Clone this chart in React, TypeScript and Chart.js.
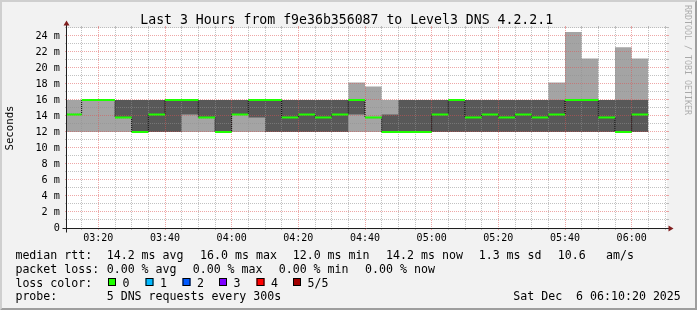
import React, { useEffect, useRef } from 'react';
import { Chart, registerables } from 'chart.js';

Chart.register(...registerables);

// ---------- text ----------
const TITLE = 'Last 3 Hours from f9e36b356087 to Level3 DNS 4.2.2.1';
const Y_TITLE = 'Seconds';
const WATERMARK = 'RRDTOOL / TOBI OETIKER';

// ---------- time axis (minutes after 03:00) ----------
const X_MIN = 10.6;
const X_MAX = 190.6;
const STEP_MINUTES = 5;
const xTickValues = [20, 40, 60, 80, 100, 120, 140, 160, 180];
const xTickLabels = ['03:20', '03:40', '04:00', '04:20', '04:40', '05:00', '05:20', '05:40', '06:00'];

// ---------- value axis (ms) ----------
const Y_MAX = 25;
const yTickValues = [0, 2, 4, 6, 8, 10, 12, 14, 16, 18, 20, 22, 24];
const yTickLabels = ['0', '2 m', '4 m', '6 m', '8 m', '10 m', '12 m', '14 m', '16 m', '18 m', '20 m', '22 m', '24 m'];

// ---------- data: 5 sorted DNS pings per 5-minute step ----------
const stepStarts = [10, 15, 20, 25, 30, 35, 40, 45, 50, 55, 60, 65, 70, 75, 80, 85, 90, 95, 100, 105, 110, 115, 120, 125, 130, 135, 140, 145, 150, 155, 160, 165, 170, 175, 180];
const ping1 = [12, 12, 12, 12, 12, 12, 12, 12, 12, 12, 12, 12, 12, 12, 12, 12, 12, 12, 12, 12, 12, 12, 12, 12, 12, 12, 12, 12, 12, 12, 12, 12, 12, 12, 12];
const ping2 = [14.2, 16, 16, 13.8, 12, 12, 12, 14.2, 13.8, 12, 14.2, 13.8, 12, 12, 12, 12, 12, 14.2, 13.8, 12, 12, 12, 12, 12, 12, 12, 12, 12, 12, 12, 12, 12, 12, 12, 12];
const medianRtt = [14.2, 16, 16, 13.8, 12, 14.2, 16, 16, 13.8, 12, 14.2, 16, 16, 13.8, 14.2, 13.8, 14.2, 16, 13.8, 12, 12, 12, 14.2, 16, 13.8, 14.2, 13.8, 14.2, 13.8, 14.2, 16, 16, 13.8, 12, 14.2];
const ping4 = [14.2, 16, 16, 16, 16, 16, 16, 16, 16, 16, 16, 16, 16, 16, 16, 16, 16, 16, 13.8, 14.2, 16, 16, 16, 16, 16, 16, 16, 16, 16, 16, 16, 16, 16, 16, 16];
const ping5 = [16, 16, 16, 16, 16, 16, 16, 16, 16, 16, 16, 16, 16, 16, 16, 16, 16, 18.2, 17.7, 16, 16, 16, 16, 16, 16, 16, 16, 16, 16, 18.2, 24.5, 21.2, 16, 22.6, 21.2];

// ---------- legend ----------
const rttLabel = 'median rtt:';
const rttStats = ['14.2 ms avg', '16.0 ms max', '12.0 ms min', '14.2 ms now', '1.3 ms sd', '10.6', 'am/s'];
const lossLabel = 'packet loss:';
const lossStats = ['0.00 % avg', '0.00 % max', '0.00 % min', '0.00 % now'];
const lossColorLabel = 'loss color:';
const lossColorNames = ['0', '1', '2', '3', '4', '5/5'];
const lossColors = ['#1eff00', '#00b8ff', '#0059ff', '#7e00ff', '#ff0000', '#a10000'];
const probeLabel = 'probe:';
const probeText = '5 DNS requests every 300s';
const dateText = 'Sat Dec  6 06:10:20 2025';

// ---------- layout ----------
const W = 697;
const H = 310;
const MONO = "'DejaVu Sans Mono', monospace";
const rttX = [106.7, 200.1, 292.7, 386.1, 478.7, 557.7, 606.1];
const lossX = [106.7, 192.7, 278.7, 365.1];
const swatchX = [108, 145.5, 182.5, 219, 256.5, 293];
const legendBaselines = [258.5, 272.5, 286.5, 300.2];
const GRID_AFTER_DATASET = 3; // grid drawn over the smoke, under the median line

function stepPoints(values: number[]) {
  const pts = stepStarts.map((s, i) => ({ x: s, y: values[i] }));
  const last = stepStarts.length - 1;
  pts.push({ x: stepStarts[last] + STEP_MINUTES, y: values[last] });
  return pts;
}

function medianSegments() {
  const pts: { x: number; y: number | null }[] = [];
  stepStarts.forEach((s, i) => {
    pts.push({ x: s, y: medianRtt[i] });
    pts.push({ x: s + STEP_MINUTES, y: medianRtt[i] });
    pts.push({ x: s + STEP_MINUTES, y: null });
  });
  return pts;
}

function line(ctx: CanvasRenderingContext2D, x1: number, y1: number, x2: number, y2: number) {
  ctx.beginPath();
  ctx.moveTo(x1, y1);
  ctx.lineTo(x2, y2);
  ctx.stroke();
}

function drawGrid(chart: any) {
  const { ctx, chartArea: a } = chart;
  const xs = chart.scales.x;
  const ys = chart.scales.y;
  const X0 = a.left, X1 = a.right, Y0 = a.bottom, Y1 = a.top;
  const minor = 'rgba(143,143,143,0.55)';
  const major = 'rgba(222,79,79,0.5)';
  ctx.save();
  ctx.lineWidth = 1;
  for (let v = 1; v <= Y_MAX; v += 1) {
    const py = Math.round(ys.getPixelForValue(v)) - 0.5;
    ctx.strokeStyle = yTickValues.includes(v) ? major : minor;
    ctx.setLineDash([]);
    line(ctx, X0 - 2, py, X0, py);
    line(ctx, X1, py, X1 + 2, py);
    ctx.setLineDash([1, 1]);
    line(ctx, X0 - 1, py, X1 + 1, py);
  }
  for (let m = 15; m < X_MAX; m += STEP_MINUTES) {
    const px = Math.floor(xs.getPixelForValue(m)) + 0.5;
    ctx.strokeStyle = xTickValues.includes(m) ? major : minor;
    ctx.setLineDash([]);
    line(ctx, px, Y0, px, Y0 + 2);
    line(ctx, px, Y1 - 2, px, Y1);
    ctx.setLineDash([1, 1]);
    line(ctx, px, Y0 - 1, px, Y1);
  }
  ctx.restore();
}

const rrdPlugin = {
  id: 'rrdLook',
  beforeDraw(chart: any) {
    const { ctx, chartArea: a } = chart;
    ctx.save();
    ctx.fillStyle = '#f2f2f2';
    ctx.fillRect(0, 0, chart.width, chart.height);
    ctx.fillStyle = '#ffffff';
    ctx.fillRect(a.left, a.top, a.right - a.left, a.bottom - a.top);
    ctx.restore();
  },
  afterDatasetDraw(chart: any, args: any) {
    if (args.index === GRID_AFTER_DATASET) drawGrid(chart);
  },
  afterDatasetsDraw(chart: any) {
    const { ctx, chartArea: a } = chart;
    const X0 = a.left, X1 = a.right, Y0 = a.bottom, Y1 = a.top;
    ctx.save();
    ctx.lineWidth = 1;
    ctx.setLineDash([]);
    ctx.strokeStyle = '#1f1f1f';
    const xo = X0 - 0.5;
    const yo = Y0 + 0.5;
    line(ctx, xo - 4, yo, X1 + 4, yo);
    line(ctx, xo, yo + 4, xo, Y1 - 4);
    ctx.fillStyle = '#801f1f';
    ctx.beginPath();
    ctx.moveTo(X1 + 1.5, yo - 3);
    ctx.lineTo(X1 + 1.5, yo + 3);
    ctx.lineTo(X1 + 6.5, yo);
    ctx.closePath();
    ctx.fill();
    ctx.beginPath();
    ctx.moveTo(xo - 3, Y1 - 2.5);
    ctx.lineTo(xo + 3, Y1 - 2.5);
    ctx.lineTo(xo, Y1 - 7.5);
    ctx.closePath();
    ctx.fill();
    ctx.restore();
  },
  afterDraw(chart: any) {
    const { ctx } = chart;
    ctx.save();
    ctx.fillStyle = '#000';
    ctx.font = `13.2px ${MONO}`;
    ctx.textAlign = 'center';
    ctx.textBaseline = 'alphabetic';
    ctx.fillText(TITLE, 346.7, 24);
    ctx.save();
    ctx.translate(10.5, 128);
    ctx.rotate(-Math.PI / 2);
    ctx.font = `10.7px ${MONO}`;
    ctx.textBaseline = 'middle';
    ctx.fillText(Y_TITLE, 0, 0);
    ctx.restore();
    ctx.save();
    ctx.translate(686.7, 5);
    ctx.rotate(Math.PI / 2);
    ctx.font = `8.3px ${MONO}`;
    ctx.textAlign = 'left';
    ctx.textBaseline = 'middle';
    ctx.fillStyle = 'rgba(0,0,0,0.3)';
    ctx.fillText(WATERMARK, 0, 0);
    ctx.restore();
    ctx.font = `11.6px ${MONO}`;
    ctx.textAlign = 'left';
    ctx.textBaseline = 'alphabetic';
    ctx.fillStyle = '#000';
    const lx = 15.4;
    ctx.fillText(rttLabel, lx, legendBaselines[0]);
    rttStats.forEach((t, i) => ctx.fillText(t, rttX[i], legendBaselines[0]));
    ctx.fillText(lossLabel, lx, legendBaselines[1]);
    lossStats.forEach((t, i) => ctx.fillText(t, lossX[i], legendBaselines[1]));
    ctx.fillText(lossColorLabel, lx, legendBaselines[2]);
    lossColorNames.forEach((t, i) => {
      const sx = swatchX[i];
      ctx.fillStyle = lossColors[i];
      ctx.fillRect(sx, 278, 8, 8);
      ctx.strokeStyle = '#000';
      ctx.lineWidth = 1;
      ctx.strokeRect(sx + 0.5, 278.5, 7, 7);
      ctx.fillStyle = '#000';
      ctx.fillText(t, sx + 14.6, legendBaselines[2]);
    });
    ctx.fillText(probeLabel, lx, legendBaselines[3]);
    ctx.fillText(probeText, rttX[0], legendBaselines[3]);
    ctx.textAlign = 'right';
    ctx.fillText(dateText, 680.8, legendBaselines[3]);
    ctx.fillStyle = '#cfcfcf';
    ctx.beginPath();
    ctx.moveTo(0, H);
    ctx.lineTo(2, H - 2);
    ctx.lineTo(2, 2);
    ctx.lineTo(W - 2, 2);
    ctx.lineTo(W, 0);
    ctx.lineTo(0, 0);
    ctx.closePath();
    ctx.fill();
    ctx.fillStyle = '#9e9e9e';
    ctx.beginPath();
    ctx.moveTo(2, H - 2);
    ctx.lineTo(W - 2, H - 2);
    ctx.lineTo(W - 2, 2);
    ctx.lineTo(W, 0);
    ctx.lineTo(W, H);
    ctx.lineTo(0, H);
    ctx.closePath();
    ctx.fill();
    ctx.restore();
  },
};

export default function App() {
  const ref = useRef<HTMLCanvasElement>(null);
  useEffect(() => {
    const canvas = ref.current;
    if (!canvas) return;
    const hidden = { borderWidth: 0, pointRadius: 0, stepped: true as const, fill: false };
    const chart = new Chart(canvas, {
      type: 'line',
      data: {
        datasets: [
          { label: 'p1', data: stepPoints(ping1), ...hidden, order: 6 },
          { label: 'p5', data: stepPoints(ping5), borderWidth: 0, pointRadius: 0, stepped: true, fill: '-1', backgroundColor: '#a4a4a4', order: 5 },
          { label: 'p2', data: stepPoints(ping2), ...hidden, order: 4 },
          { label: 'p4', data: stepPoints(ping4), borderWidth: 0, pointRadius: 0, stepped: true, fill: '-1', backgroundColor: '#585858', order: 3 },
          { label: 'median steps', data: stepPoints(medianRtt), borderWidth: 1, borderColor: '#000', borderDash: [1, 1], pointRadius: 0, stepped: true, fill: false, order: 2 },
          { label: 'median', data: medianSegments(), borderWidth: 2, borderColor: lossColors[0], borderCapStyle: 'butt', pointRadius: 0, spanGaps: false, fill: false, order: 1 },
        ] as any,
      },
      options: {
        responsive: false,
        animation: false,
        devicePixelRatio: 1,
        events: [],
        layout: { padding: { left: 0, right: 30, top: 28, bottom: 0 } },
        plugins: { legend: { display: false }, tooltip: { enabled: false }, title: { display: false } },
        scales: {
          x: {
            type: 'linear',
            position: 'bottom',
            min: X_MIN,
            max: X_MAX,
            grid: { display: false, drawTicks: false },
            border: { display: false },
            ticks: {
              autoSkip: false,
              maxRotation: 0,
              padding: 4,
              color: '#000',
              font: { family: MONO, size: 10 },
              callback: (_v: any, i: number) => xTickLabels[i],
            },
            afterBuildTicks: (s: any) => {
              s.ticks = xTickValues.map((v) => ({ value: v }));
            },
            afterFit: (s: any) => {
              s.height = H - 228;
            },
          },
          y: {
            type: 'linear',
            position: 'left',
            min: 0,
            max: Y_MAX,
            grid: { display: false, drawTicks: false },
            border: { display: false },
            ticks: {
              autoSkip: false,
              padding: 7,
              color: '#000',
              font: { family: MONO, size: 10.2 },
              callback: (_v: any, i: number) => yTickLabels[i],
            },
            afterBuildTicks: (s: any) => {
              s.ticks = yTickValues.map((v) => ({ value: v }));
            },
            afterFit: (s: any) => {
              s.width = 67;
            },
          },
        },
      } as any,
      plugins: [rrdPlugin],
    });
    return () => chart.destroy();
  }, []);
  return (
    <div style={{ position: 'fixed', left: 0, top: 0, width: W, height: H }}>
      <canvas ref={ref} width={W} height={H} style={{ display: 'block', width: W, height: H }} />
    </div>
  );
}
